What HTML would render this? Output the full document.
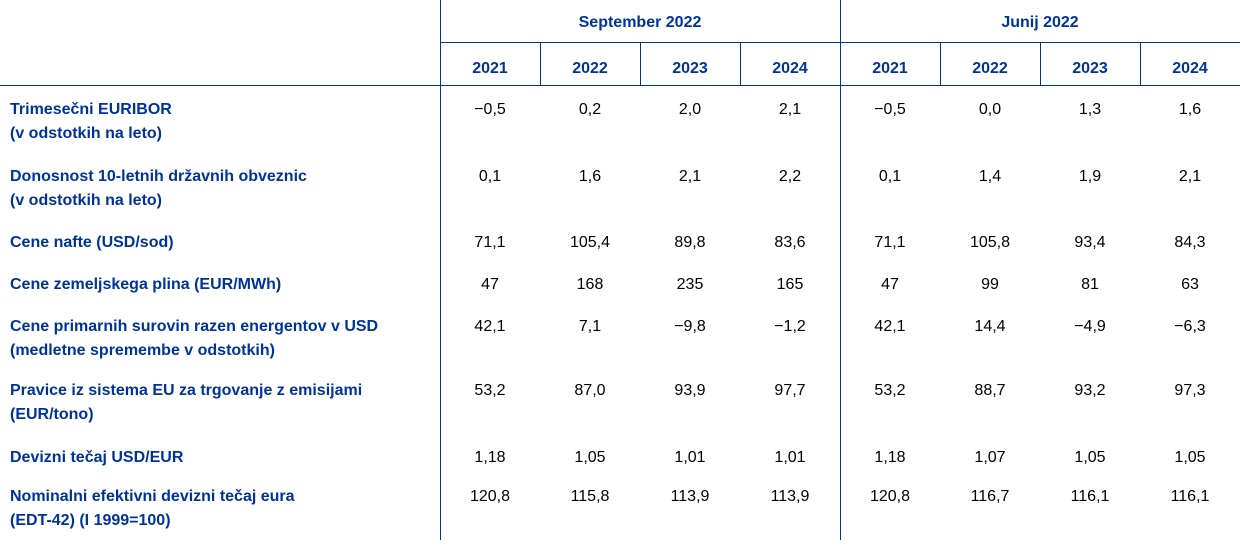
<!DOCTYPE html>
<html><head><meta charset="utf-8"><style>
body{margin:0;width:1240px;height:547px;background:#fff;position:relative;overflow:hidden;font-family:"Liberation Sans",Arial,sans-serif;font-size:16px;}
.l{position:absolute;background:#003399;}
.t{position:absolute;line-height:24px;white-space:nowrap;}
.lab{left:10px;color:#003399;font-weight:bold;}
.h{color:#003399;font-weight:bold;text-align:center;}
.v{color:#000;text-align:center;width:100px;}
</style></head><body>
<div class="l" style="left:440px;top:0;width:1px;height:540px"></div>
<div class="l" style="left:840px;top:0;width:1px;height:540px"></div>
<div class="l" style="left:440px;top:42px;width:800px;height:1px"></div>
<div class="l" style="left:0;top:85px;width:1240px;height:1px"></div>
<div class="l" style="left:540px;top:42px;width:1px;height:44px"></div>
<div class="l" style="left:640px;top:42px;width:1px;height:44px"></div>
<div class="l" style="left:740px;top:42px;width:1px;height:44px"></div>
<div class="l" style="left:940px;top:42px;width:1px;height:44px"></div>
<div class="l" style="left:1040px;top:42px;width:1px;height:44px"></div>
<div class="l" style="left:1140px;top:42px;width:1px;height:44px"></div>
<div class="t h" style="left:440px;top:11px;width:400px">September 2022</div>
<div class="t h" style="left:840px;top:11px;width:400px">Junij 2022</div>
<script>
var b=document.body;
function add(cls,x,y,w,txt){var d=document.createElement('div');d.className='t '+cls;d.style.left=x+'px';d.style.top=y+'px';if(w)d.style.width=w+'px';d.innerHTML=txt;b.appendChild(d);}
var yrs=['2021','2022','2023','2024'];
for(var i=0;i<8;i++)add('h',440+i*100,57,100,yrs[i%4]);
var rows=[
[98,'Trimesečni EURIBOR<br>(v odstotkih na leto)',['−0,5','0,2','2,0','2,1','−0,5','0,0','1,3','1,6']],
[165,'Donosnost 10-letnih državnih obveznic<br>(v odstotkih na leto)',['0,1','1,6','2,1','2,2','0,1','1,4','1,9','2,1']],
[231,'Cene nafte (USD/sod)',['71,1','105,4','89,8','83,6','71,1','105,8','93,4','84,3']],
[273,'Cene zemeljskega plina (EUR/MWh)',['47','168','235','165','47','99','81','63']],
[315,'Cene primarnih surovin razen energentov v USD<br>(medletne spremembe v odstotkih)',['42,1','7,1','−9,8','−1,2','42,1','14,4','−4,9','−6,3']],
[379,'Pravice iz sistema EU za trgovanje z emisijami<br>(EUR/tono)',['53,2','87,0','93,9','97,7','53,2','88,7','93,2','97,3']],
[446,'Devizni tečaj USD/EUR',['1,18','1,05','1,01','1,01','1,18','1,07','1,05','1,05']],
[485,'Nominalni efektivni devizni tečaj eura<br>(EDT-42) (I 1999=100)',['120,8','115,8','113,9','113,9','120,8','116,7','116,1','116,1']]
];
rows.forEach(function(r){add('lab',10,r[0],0,r[1]);for(var i=0;i<8;i++)add('v',440+i*100,r[0],100,r[2][i]);});
</script>
</body></html>
